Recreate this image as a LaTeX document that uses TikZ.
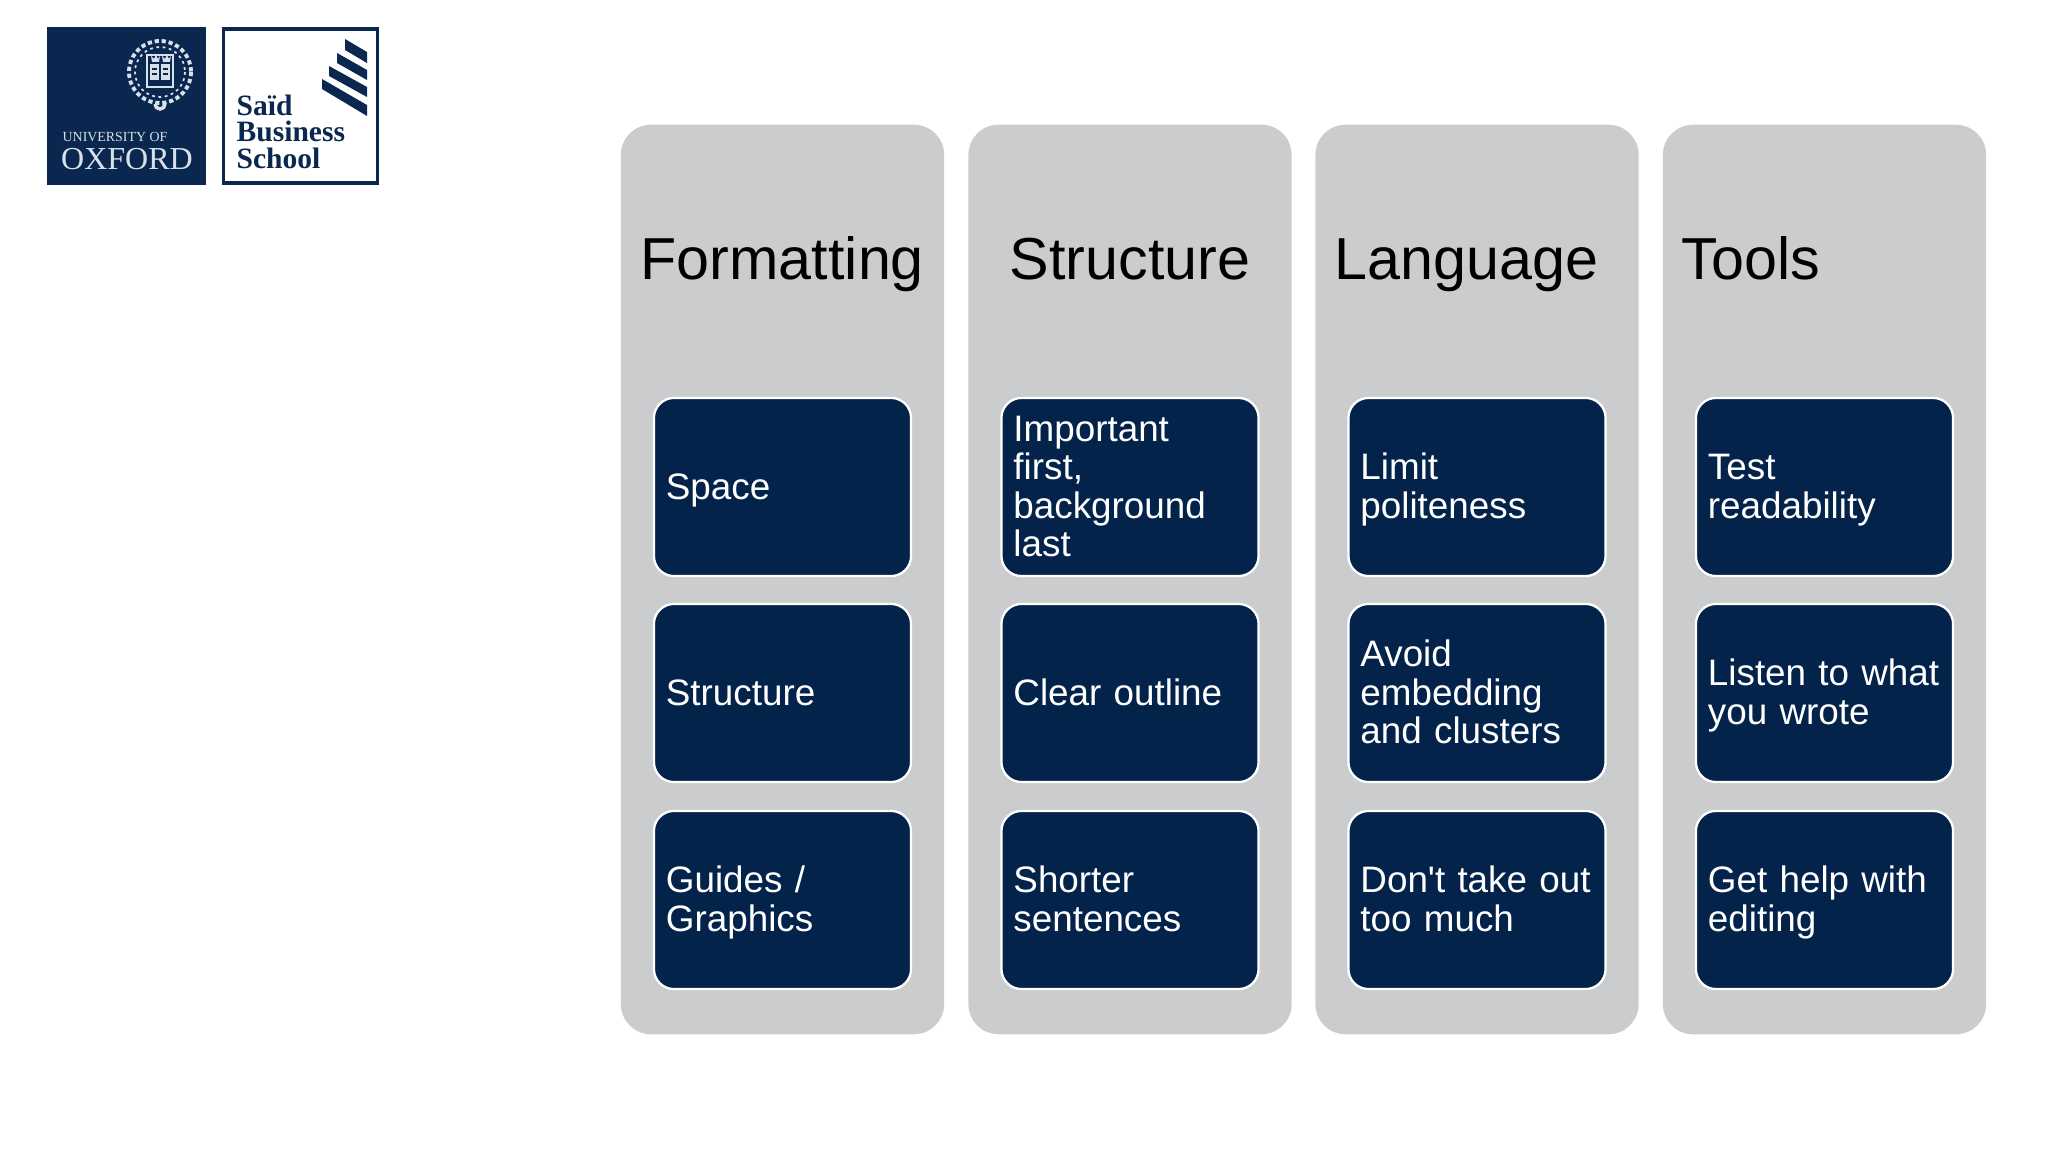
\documentclass[tikz,border=0pt]{standalone}
\usepackage{fontspec}
\setmainfont[WordSpace=0.6]{Liberation Sans}
\newfontfamily\logoserif{Liberation Serif}
\definecolor{sbnavy}{HTML}{03234B}
\definecolor{sbgrey}{HTML}{CBCCCE}
\definecolor{sblogo}{HTML}{0A2750}
\definecolor{sbpale}{HTML}{D8E1EA}
\newcommand\itemstrut{\rule{0pt}{10.2pt}}
\tikzset{
  column/.style={rectangle,rounded corners=.3cm,fill=sbgrey,minimum width=3.23cm,minimum height=9.09cm,inner sep=0pt},
  item/.style={rectangle,rounded corners=.2cm,draw=white,fill=sbnavy,line width=.65pt,minimum width=2.57cm,minimum height=1.78cm,text width=2.33cm,inner xsep=.12cm,inner ysep=0pt,align=left,text=white,font=\fontsize{10.47}{10.92}\selectfont,execute at begin node=\itemstrut,execute at end node=\strut},
  heading/.style={inner sep=0pt,text=black,font=\fontsize{16.85}{18}\selectfont},
  logobox/.style={rectangle,minimum width=1.58cm,minimum height=1.58cm,inner sep=0pt},
  crestline/.style={draw=sbpale,line width=.5pt},
  stripe/.style={fill=sblogo},
}
\begin{document}
\begin{tikzpicture}[x=.01cm,y=-.01cm]
  \useasboundingbox (0,0) rectangle (2048,1152);

  % logos
  \node[logobox,fill=sblogo] (oxford) at (126.5,106) {};
  \draw[crestline,dash pattern=on 1.2pt off .8pt,line width=1.1pt] (160,72) circle (31);
  \draw[crestline,dash pattern=on .8pt off 1pt] (160,72) circle (25);
  \draw[crestline] (147,55) rectangle (173,87);
  \fill[sbpale] (150,64) rectangle (170,80);
  \draw[sblogo,line width=.4pt] (160,64)--(160,80) (152,69)--(157,69) (163,69)--(168,69) (152,74)--(157,74) (163,74)--(168,74);
  \fill[sbpale] (152,62)--(151,56)--(154,59)--(156,55)--(158,59)--(160,56)--(159,62)--cycle;
  \fill[sbpale] (163,62)--(162,56)--(165,59)--(167,55)--(169,59)--(171,56)--(170,62)--cycle;
  \draw[crestline,line width=1pt] (155,104) arc (180:0:5);
  \node[anchor=base,inner sep=0pt,text=sbpale,font=\logoserif\fontsize{3.95}{4}\selectfont] (univ) at (115,142) {UNIVERSITY OF};
  \node[anchor=base,inner sep=0pt,text=sbpale,font=\logoserif\fontsize{9.1}{10}\selectfont] (oxname) at (127,170) {OXFORD};

  \node[logobox,fill=white,draw=sblogo,line width=.9pt,minimum width=1.54cm,minimum height=1.54cm] (said) at (300.5,106) {};
  \fill[stripe] (345,39)--(367,52)--(367,63)--(345,50)--cycle;
  \fill[stripe] (337,53)--(367,70)--(367,80)--(337,63)--cycle;
  \fill[stripe] (329,66)--(367,87)--(367,97)--(329,76)--cycle;
  \fill[stripe] (322,79)--(367,105)--(367,116)--(322,89)--cycle;
  \node[anchor=base west,inner sep=0pt,text=sblogo,font=\logoserif\bfseries\fontsize{8.4}{9}\selectfont] (said1) at (236,116) {Saïd};
  \node[anchor=base west,inner sep=0pt,text=sblogo,font=\logoserif\bfseries\fontsize{8.4}{9}\selectfont] (said2) at (236,142) {Business};
  \node[anchor=base west,inner sep=0pt,text=sblogo,font=\logoserif\bfseries\fontsize{8.4}{9}\selectfont] (said3) at (236,169) {School};

  % columns
  \node[column] (col1) at (782.5,579.5) {};
  \node[column] (col2) at (1130,579.5) {};
  \node[column] (col3) at (1477,579.5) {};
  \node[column] (col4) at (1824.5,579.5) {};

  \node[heading,anchor=base west] (head1) at (640,280) {Formatting};
  \node[heading,anchor=base] (head2) at (1130,280) {Structure};
  \node[heading,anchor=base west] (head3) at (1334,280) {Language};
  \node[heading,anchor=base west] (head4) at (1681,280) {Tools};

  \node[item] (a1) at (782.5,487) {Space};
  \node[item] (a2) at (782.5,693) {Structure};
  \node[item] (a3) at (782.5,900) {Guides /\\Graphics};

  \node[item] (b1) at (1130,487) {Important\\first,\\background\\last};
  \node[item] (b2) at (1130,693) {Clear outline};
  \node[item] (b3) at (1130,900) {Shorter\\sentences};

  \node[item] (c1) at (1477,487) {Limit\\politeness};
  \node[item] (c2) at (1477,693) {Avoid\\embedding\\and clusters};
  \node[item] (c3) at (1477,900) {Don\textquotesingle t take out\\too much};

  \node[item] (d1) at (1824.5,487) {Test\\readability};
  \node[item] (d2) at (1824.5,693) {Listen to what\\you wrote};
  \node[item] (d3) at (1824.5,900) {Get help with\\editing};
\end{tikzpicture}
\end{document}
